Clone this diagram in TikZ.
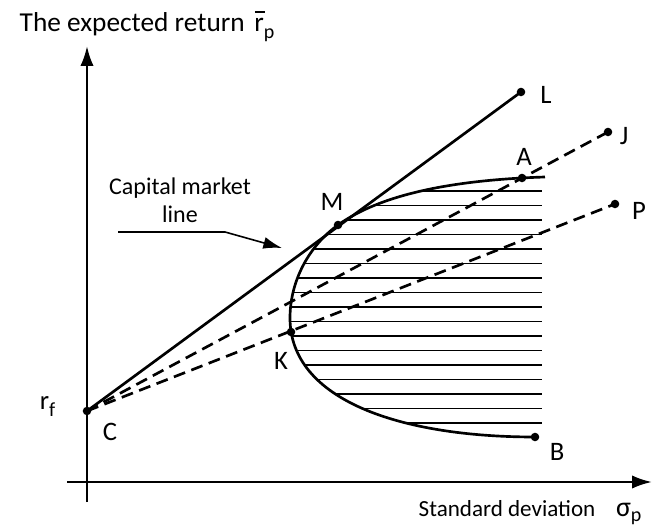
\documentclass[tikz,border=0pt]{standalone}
\usepackage{fontspec}
\setmainfont{Carlito}
\usetikzlibrary{arrows.meta}
\newcommand\lowsub[1]{\raisebox{-0.5ex}{\fontsize{15}{15}\selectfont #1}}
\newcommand\barr{\rlap{\hspace{0.02em}\raisebox{1.45ex}{\rule{0.38em}{1.3pt}}}r}
\begin{document}
\begin{tikzpicture}[x=0.75pt, y=-0.75pt, font=\fontsize{18}{21}\selectfont,
	axis/.style={line width=1.9pt, -{Latex[length=15pt, width=10pt]}},
	dashline/.style={line width=2pt, dash pattern=on 9pt off 5pt},
	hatch/.style={line width=1.2pt},
	pt/.style={font=\fontsize{20}{24}\selectfont}]
	\useasboundingbox (0,0) rectangle (653,530);
	% оси
	\coordinate (xs) at (67,482);  \coordinate (xe) at (652,482);
	\coordinate (ys) at (87,502);  \coordinate (ye) at (87,46);
	\draw[axis] (xs)--(xe);
	\draw[axis] (ys)--(ye);
	\node[anchor=base west, font=\fontsize{20.5}{24}\selectfont] (ylab) at (15,32) {The expected return\hspace{0.35em}\barr\lowsub{p}};
	\node[anchor=base west, font=\fontsize{17.3}{21}\selectfont] (xlab) at (414,516) {Standard deviation\hspace{0.9em}{\fontsize{21}{21}\selectfont σ}\lowsub{p}};
	% точки
	\coordinate (C) at (87,411);
	\coordinate (L) at (521,92);
	\coordinate (J) at (608,132);
	\coordinate (P) at (615,204);
	\coordinate (A) at (522,178);
	\coordinate (M) at (338,225);
	\coordinate (K) at (291,332);
	\coordinate (B) at (535,437);
	\coordinate (E) at (545,177);
	\coordinate (V) at (290,318);
	% штриховка допустимого множества
	\begin{scope}
		\clip (E) .. controls (450,180) and (380,195) .. (M)
			.. controls (310,245) and (290,280) .. (V)
			.. controls (290,400) and (400,437) .. (B) -- (545,437) -- cycle;
		\foreach \k in {0,...,16}{ \draw[hatch] (280,{191+14.5*\k}) -- (542,{191+14.5*\k}); }
	\end{scope}
	\draw[line width=2pt] (E) .. controls (450,180) and (380,195) .. (M)
		.. controls (310,245) and (290,280) .. (V)
		.. controls (290,400) and (400,437) .. (B);
	% линии из C
	\draw[line width=2pt] (C)--(L);
	\draw[dashline] (C)--(J);
	\draw[dashline] (C)--(P);
	\foreach \p in {C,L,J,P,A,M,K,B}{ \fill (\p) circle[radius=3.2pt]; }
	% подписи
	\node[pt] (lL) at (546,95) {L};
	\node[pt] (lJ) at (624,136) {J};
	\node[pt] (lA) at (524,157) {A};
	\node[pt] (lP) at (639,211) {P};
	\node[pt] (lM) at (332,202) {M};
	\node[pt] (lK) at (281,361) {K};
	\node[pt] (lB) at (557,452) {B};
	\node[pt] (lC) at (110,432) {C};
	\node[pt, anchor=base east] (lrf) at (60,410) {r\lowsub{f}};
	% capital market line
	\node[align=center] (cml) at (180,200) {Capital market\\line};
	\coordinate (cmls) at (118,232);
	\coordinate (cmlb) at (225,232);
	\coordinate (cmlt) at (282,248);
	\draw[line width=1.2pt, -{Latex[length=14pt, width=9pt]}] (cmls)--(cmlb)--(cmlt);
\end{tikzpicture}
\end{document}
